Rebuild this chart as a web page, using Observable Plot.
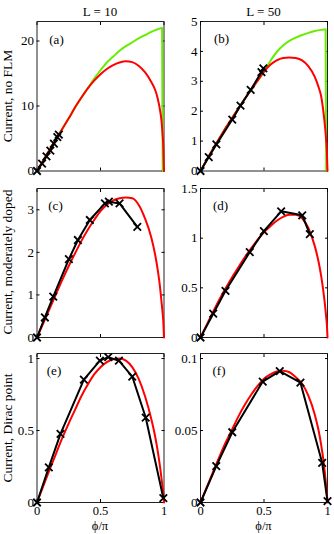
<!DOCTYPE html>
<html><head><meta charset="utf-8">
<script src="https://cdn.jsdelivr.net/npm/d3@7"></script>
<script src="https://cdn.jsdelivr.net/npm/@observablehq/plot@0.6"></script>
<style>
html,body{margin:0;padding:0;background:#fff;overflow:hidden}
#chart{position:relative;width:334px;height:534px;font-family:"Liberation Serif","Times New Roman",serif;color:#000;overflow:hidden}
.lbl{position:absolute;font-size:13px;line-height:14px;white-space:nowrap;text-align:center;width:80px}
.xlab{position:absolute;font-size:12.5px;line-height:12px;white-space:nowrap;text-align:center;width:60px}
.ylab{position:absolute;width:200px;font-size:13.5px;line-height:14px;text-align:center;transform:rotate(-90deg);white-space:nowrap}
.pl{position:absolute}
</style></head><body><div id="chart"></div>
<script>
// ---- data ----
const colTitles = ["L = 10", "L = 50"];
const rowLabels = ["Current, no FLM", "Current, moderately doped", "Current, Dirac point"];
const panelLetters = ["(a)", "(b)", "(c)", "(d)", "(e)", "(f)"];
const xLabel = "\u03D5/\u03C0";
const xTicks = [0, 0.5, 1];
const yTicksA = [0, 10, 20];
const yTicksB = [0, 1, 2, 3, 4, 5];
const yTicksC = [0, 1, 2, 3];
const yTicksD = [0, 0.5, 1, 1.5];
const yTicksE = [0, 0.5, 1];
const yTicksF = [0, 0.05, 0.1];
const yMaxes = [23, 5, 3.5, 1.5, 1.035, 0.1035];

// theory curves (red) sampled at these phase values
const phiCurve = [0, 0.05, 0.1, 0.15, 0.2, 0.25, 0.3, 0.35, 0.4, 0.45, 0.5, 0.55, 0.6, 0.65, 0.7, 0.75, 0.8, 0.85, 0.9, 0.93, 0.95, 0.97, 0.98, 0.99, 0.995, 1];
const redA = [0, 1.65, 3.3, 4.9, 6.5, 8.1, 9.8, 11.3, 12.7, 13.9, 14.9, 15.7, 16.3, 16.7, 16.9, 16.75, 16.2, 15.2, 13.7, 12.5, 11.2, 9.2, 7.8, 5.3, 3.6, 0];
const redB = [0, 0.38, 0.75, 1.1, 1.45, 1.78, 2.1, 2.42, 2.73, 3.02, 3.32, 3.55, 3.7, 3.78, 3.8, 3.78, 3.7, 3.5, 3.15, 2.8, 2.5, 1.9, 1.5, 1.0, 0.65, 0];
const redC = [0, 0.34, 0.68, 1.02, 1.36, 1.68, 1.98, 2.27, 2.53, 2.76, 2.97, 3.12, 3.22, 3.27, 3.29, 3.27, 3.12, 2.8, 2.35, 1.95, 1.6, 1.15, 0.85, 0.55, 0.35, 0];
const redD = [0, 0.13, 0.26, 0.385, 0.5, 0.61, 0.71, 0.81, 0.9, 0.985, 1.06, 1.12, 1.175, 1.215, 1.235, 1.235, 1.2, 1.1, 0.92, 0.76, 0.62, 0.44, 0.33, 0.2, 0.13, 0];
const redE = [0, 0.115, 0.23, 0.34, 0.45, 0.55, 0.645, 0.74, 0.82, 0.89, 0.94, 0.975, 0.995, 1.0, 0.985, 0.94, 0.86, 0.74, 0.58, 0.46, 0.36, 0.24, 0.17, 0.1, 0.06, 0];
const redF = [0, 0.0108, 0.0215, 0.032, 0.042, 0.051, 0.06, 0.068, 0.075, 0.081, 0.086, 0.089, 0.091, 0.0915, 0.0905, 0.087, 0.0825, 0.074, 0.061, 0.05, 0.04, 0.028, 0.02, 0.011, 0.006, 0];

// green curves (no FLM)
const phiGreen = [0, 0.05, 0.1, 0.15, 0.2, 0.25, 0.3, 0.35, 0.4, 0.45, 0.5, 0.55, 0.6, 0.65, 0.7, 0.75, 0.8, 0.85, 0.9, 0.95, 0.985, 0.99];
const greenA = [0, 1.65, 3.3, 4.9, 6.5, 8.1, 9.8, 11.3, 12.75, 14.2, 15.5, 16.7, 17.6, 18.5, 19.2, 19.8, 20.4, 20.9, 21.4, 21.8, 22.0, 0];
const greenB = [0, 0.38, 0.75, 1.1, 1.45, 1.78, 2.1, 2.42, 2.73, 3.02, 3.32, 3.68, 3.98, 4.2, 4.35, 4.46, 4.55, 4.62, 4.68, 4.72, 4.74, 0];

// simulation points (black crosses)
const phiBlackA = [0, 0.04, 0.075, 0.105, 0.133, 0.16, 0.172];
const blackA = [0, 1.15, 2.25, 3.15, 4.2, 5.2, 5.6];
const phiBlackB = [0, 0.065, 0.125, 0.25, 0.315, 0.395, 0.48, 0.495];
const blackB = [0, 0.465, 0.89, 1.72, 2.19, 2.71, 3.31, 3.43];
const phiBlackC = [0, 0.062, 0.128, 0.251, 0.322, 0.416, 0.535, 0.566, 0.65, 0.79];
const blackC = [0, 0.47, 0.96, 1.84, 2.29, 2.76, 3.15, 3.19, 3.15, 2.6];
const phiBlackD = [0, 0.1, 0.197, 0.388, 0.499, 0.635, 0.801, 0.861];
const blackD = [0, 0.24, 0.47, 0.86, 1.07, 1.27, 1.23, 1.04];
const phiBlackE = [0, 0.093, 0.185, 0.369, 0.495, 0.561, 0.645, 0.75, 0.856, 0.995];
const blackE = [0, 0.244, 0.477, 0.853, 0.985, 1.01, 0.985, 0.875, 0.59, 0.03];
const phiBlackF = [0, 0.124, 0.25, 0.49, 0.624, 0.787, 0.958, 1.0];
const blackF = [0, 0.0253, 0.0488, 0.084, 0.0913, 0.0832, 0.0276, 0.001];

// ---- build ----
const zip = (xs, ys) => xs.map((x, i) => ({x, y: ys[i]}));
const panels = [
  {red: redA, green: greenA, pb: phiBlackA, b: blackA, yt: yTicksA},
  {red: redB, green: greenB, pb: phiBlackB, b: blackB, yt: yTicksB},
  {red: redC, pb: phiBlackC, b: blackC, yt: yTicksC},
  {red: redD, pb: phiBlackD, b: blackD, yt: yTicksD},
  {red: redE, pb: phiBlackE, b: blackE, yt: yTicksE},
  {red: redF, pb: phiBlackF, b: blackF, yt: yTicksF}
];
// layout
const colLeft = [0, 164], colML = [36.5, 36], colMR = [0.5, 7], frameW = 127;
const rowFrameTop = [21, 187.7, 352.7], rowFrameH = [149.5, 149, 149];
const letterDx = [19.5, 21, 18.5, 20, 17, 18.5], letterDy = [13.5, 12.5, 12.5, 12.5, 12, 12];
const fmt = d => String(d);
const chart = document.getElementById("chart");

panels.forEach((p, i) => {
  const col = i % 2, row = Math.floor(i / 2);
  const mt = 8, mb = row === 2 ? 30 : 8;
  const marks = [
    Plot.frame({stroke: "#222", strokeWidth: 1}),
    Plot.axisY({anchor: "left", ticks: p.yt, tickSize: 0, tickPadding: 3, tickFormat: fmt, label: null, fontSize: 13}),
    Plot.axisY({anchor: "left", ticks: p.yt, tickSize: 3, dx: 3, fill: "none", label: null}),
    Plot.axisY({anchor: "right", ticks: p.yt, tickSize: 3, dx: -3, fill: "none", label: null}),
    Plot.axisX({anchor: "bottom", ticks: xTicks, tickSize: 3, dy: -3, fill: "none", label: null}),
    Plot.axisX({anchor: "top", ticks: xTicks, tickSize: 3, dy: 3, fill: "none", label: null}),
    row === 2 ? Plot.axisX({anchor: "bottom", ticks: xTicks, tickSize: 0, tickPadding: 4, tickFormat: fmt, label: null, fontSize: 12.5}) : null,
    p.green ? Plot.line(zip(phiGreen, p.green), {x: "x", y: "y", stroke: "#66ee00", strokeWidth: 2, curve: "monotone-x"}) : null,
    Plot.line(zip(phiCurve, p.red), {x: "x", y: "y", stroke: "#ff0000", strokeWidth: 2, curve: "monotone-x"}),
    Plot.line(zip(p.pb, p.b), {x: "x", y: "y", stroke: "#000", strokeWidth: 2}),
    Plot.dot(zip(p.pb, p.b), {x: "x", y: "y", symbol: "times", r: 3.5, stroke: "#000", strokeWidth: 1.8}),
    Plot.text([panelLetters[i]], {text: d => d, frameAnchor: "top-left", dx: letterDx[i], dy: letterDy[i], fontSize: 13, textAnchor: "middle"})
  ];
  const svg = Plot.plot({
    width: colML[col] + frameW + colMR[col],
    height: mt + rowFrameH[row] + mb,
    marginLeft: colML[col], marginRight: colMR[col], marginTop: mt, marginBottom: mb,
    x: {domain: [0, 1], label: null},
    y: {domain: [0, yMaxes[i]], label: null},
    style: {fontFamily: "Liberation Serif", fontSize: "13px", background: "transparent", overflow: "visible", color: "#000"},
    marks
  });
  svg.classList.add("pl");
  svg.style.left = colLeft[col] + "px";
  svg.style.top = (rowFrameTop[row] - mt) + "px";
  chart.appendChild(svg);
});

function addDiv(cls, text, left, top) {
  const d = document.createElement("div");
  d.className = cls; d.textContent = text;
  d.style.left = left + "px"; d.style.top = top + "px";
  chart.appendChild(d);
}
addDiv("lbl", colTitles[0], 100 - 40, 5);
addDiv("lbl", colTitles[1], 263.5 - 40, 5);
const rowCenters = [96, 262, 427.5];
rowLabels.forEach((t, r) => addDiv("ylab", t, 7.5 - 100, rowCenters[r] - 7));
addDiv("xlab", xLabel, 100 - 30, 519.5);
addDiv("xlab", xLabel, 263.5 - 30, 519.5);
</script></body></html>
